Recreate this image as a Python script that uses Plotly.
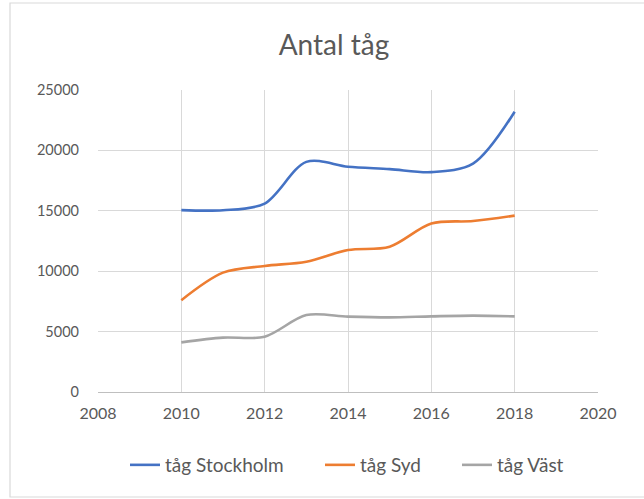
import plotly.graph_objects as go

years = [2010, 2011, 2012, 2013, 2014, 2015, 2016, 2017, 2018]
stockholm = [15060, 15050, 15600, 19050, 18650, 18450, 18200, 18900, 23200]
syd = [7600, 9880, 10430, 10790, 11750, 12030, 13950, 14150, 14600]
vast = [4110, 4500, 4580, 6370, 6240, 6180, 6260, 6320, 6260]

series_names = ["tåg Stockholm", "tåg Syd", "tåg Väst"]
series_values = [stockholm, syd, vast]
colors = ["#4472C4", "#ED7D31", "#A5A5A5"]
legend_ids = ["legend", "legend2", "legend3"]

x_ticks = [2008, 2010, 2012, 2014, 2016, 2018, 2020]
y_ticks = [0, 5000, 10000, 15000, 20000, 25000]

fig = go.Figure()
for name, vals, col, lg in zip(series_names, series_values, colors, legend_ids):
    fig.add_trace(go.Scatter(
        x=years, y=vals, name=name, mode="lines", legend=lg,
        line=dict(color=col, width=2.6, shape="spline", smoothing=0.9),
    ))

W, H = 644, 499
ml, mr, mt, mb = 98, 46, 90, 107
pw, ph = W - ml - mr, H - mt - mb

def px_x(p):
    return (p - ml) / pw

def px_y(p):
    return (H - mb - p) / ph

text_starts = [165, 360, 497]
legend_font = dict(size=19, color="#595959")
legends = {}
for lg, ts in zip(legend_ids, text_starts):
    legends[lg] = dict(orientation="h", x=px_x(ts - 40), xanchor="left",
                       y=px_y(465), yanchor="middle", font=legend_font,
                       bgcolor="rgba(0,0,0,0)", borderwidth=0)

fig.update_layout(
    width=W, height=H,
    margin=dict(l=ml, r=mr, t=mt, b=mb),
    paper_bgcolor="white", plot_bgcolor="white",
    font=dict(family="Lato, 'Open Sans', sans-serif", color="#595959", size=15),
    title=dict(text="Antal tåg", x=334 / W, xref="container", xanchor="center",
               y=(H - 45) / H, yanchor="middle",
               font=dict(size=28, color="#595959")),
    xaxis=dict(range=[2008, 2020], tickvals=x_ticks, ticktext=[str(v) for v in x_ticks],
               showgrid=True, gridcolor="#D9D9D9", gridwidth=1,
               showline=True, linecolor="#BFBFBF", linewidth=1,
               zeroline=False, ticks="", ticklabelstandoff=7, fixedrange=True,
               tickfont=dict(size=16)),
    yaxis=dict(range=[0, 25000], tickvals=y_ticks, ticktext=[str(v) for v in y_ticks],
               showgrid=True, gridcolor="#D9D9D9", gridwidth=1,
               showline=False, zeroline=False, ticks="", ticklabelstandoff=18,
               fixedrange=True, tickfont=dict(size=14.5)),
    showlegend=True,
    shapes=[dict(type="rect", xref="paper", yref="paper",
                 x0=px_x(10), x1=px_x(660), y0=px_y(497), y1=px_y(3),
                 line=dict(color="#D9D9D9", width=1.2), fillcolor="rgba(0,0,0,0)",
                 layer="below")],
    **legends,
)

fig.write_html("out.html", config={"displayModeBar": False},
               post_script="document.body.style.margin='0';document.body.style.overflow='hidden';")
